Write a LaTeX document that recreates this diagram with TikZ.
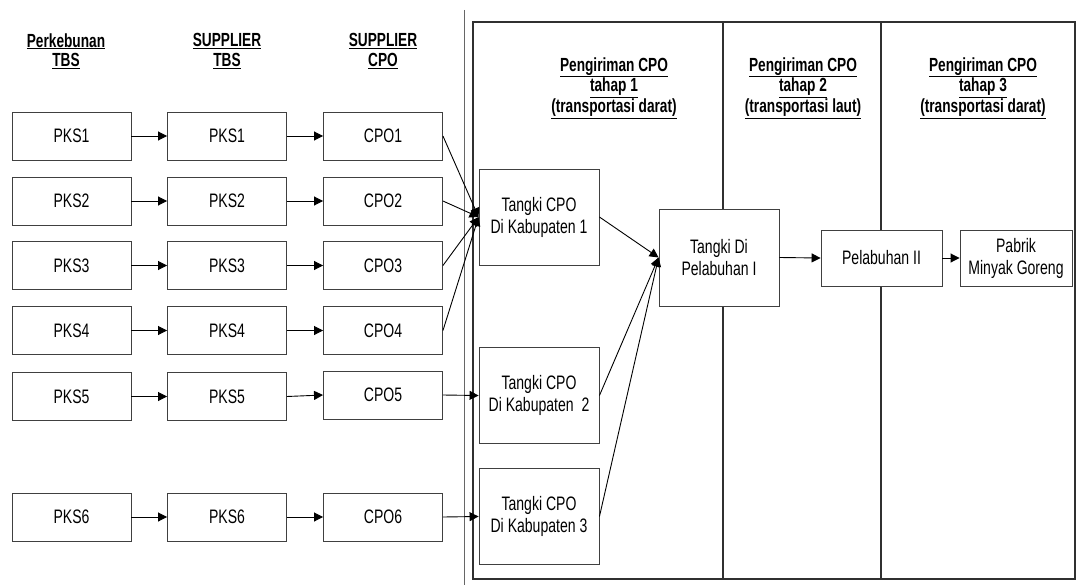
\documentclass[tikz,border=0pt]{standalone}
\usepackage{fontspec}
\setmainfont{Liberation Sans}[FakeStretch=0.72]
\usepackage{tikz}
\usetikzlibrary{arrows.meta,positioning}
\definecolor{frameline}{HTML}{303030}
\definecolor{boxline}{HTML}{404040}
\tikzset{
  pbox/.style={draw=boxline,fill=white,line width=0.9pt,align=center,inner sep=0pt,
    minimum width=119pt,minimum height=48pt,font=\fontsize{19.5}{22}\selectfont},
  tbox/.style={pbox,minimum width=120pt,minimum height=96pt},
  phead/.style={align=center,inner sep=0pt,font=\fontsize{19}{19.5}\selectfont\bfseries},
  parr/.style={-{Triangle[length=9pt,width=9pt]},line width=0.9pt,draw=black},
  pline/.style={line width=1.1pt,draw=frameline}
}
\begin{document}
\begin{tikzpicture}[x=1pt,y=-1pt]
  \useasboundingbox (0,0) rectangle (1076,586);
  % frame of the shipping stages
  \draw[pline] (473,22) rectangle (1075,579);
  \draw[pline] (723,22) -- (723,579);
  \draw[pline] (881,22) -- (881,579);
  \draw[line width=0.9pt,draw=gray!80!black] (464,10) -- (464,585);
  % column headers
  \node[phead] (h1) at (66,51) {\underline{Perkebunan}\\\underline{TBS}};
  \node[phead] (h2) at (227,51) {\underline{SUPPLIER}\\\underline{TBS}};
  \node[phead] (h3) at (383,51) {\underline{SUPPLIER}\\\underline{CPO}};
  \node[phead] (s1) at (614,88) {\underline{Pengiriman CPO}\\\underline{tahap 1}\\\underline{(transportasi darat)}};
  \node[phead] (s2) at (803,88) {\underline{Pengiriman CPO}\\\underline{tahap 2}\\\underline{(transportasi laut)}};
  \node[phead] (s3) at (983,88) {\underline{Pengiriman CPO}\\\underline{tahap 3}\\\underline{(transportasi darat)}};
  % plantations
  \node[pbox] (p1) at (71.5,136) {PKS1};
  \node[pbox] (p2) at (71.5,201) {PKS2};
  \node[pbox] (p3) at (71.5,265.5) {PKS3};
  \node[pbox] (p4) at (71.5,330.5) {PKS4};
  \node[pbox] (p5) at (71.5,396.5) {PKS5};
  \node[pbox] (p6) at (71.5,517) {PKS6};
  % TBS suppliers
  \node[pbox] (t1) at (227,136) {PKS1};
  \node[pbox] (t2) at (227,201) {PKS2};
  \node[pbox] (t3) at (227,265.5) {PKS3};
  \node[pbox] (t4) at (227,330.5) {PKS4};
  \node[pbox] (t5) at (227,396.5) {PKS5};
  \node[pbox] (t6) at (227,517) {PKS6};
  % CPO suppliers
  \node[pbox] (c1) at (383,136) {CPO1};
  \node[pbox] (c2) at (383,201) {CPO2};
  \node[pbox] (c3) at (383,265.5) {CPO3};
  \node[pbox] (c4) at (383,330.5) {CPO4};
  \node[pbox] (c5) at (383,395) {CPO5};
  \node[pbox] (c6) at (383,517) {CPO6};
  % tanks and ports
  \node[tbox] (k1) at (539,217) {Tangki CPO\\Di Kabupaten 1};
  \node[tbox] (k2) at (539,395.5) {Tangki CPO\\Di Kabupaten\ \ 2};
  \node[tbox] (k3) at (539,516.5) {Tangki CPO\\Di Kabupaten 3};
  \node[tbox,minimum height=97pt] (l1) at (719,257.5) {Tangki Di\\Pelabuhan I};
  \node[pbox,minimum width=121pt,minimum height=56pt] (l2) at (881.5,258) {Pelabuhan II};
  \node[pbox,minimum width=112pt,minimum height=56pt] (pm) at (1016,258) {Pabrik\\Minyak Goreng};
  % rows
  \draw[parr] (p1) -- (t1);
  \draw[parr] (t1) -- (c1);
  \draw[parr] (p2) -- (t2);
  \draw[parr] (t2) -- (c2);
  \draw[parr] (p3) -- (t3);
  \draw[parr] (t3) -- (c3);
  \draw[parr] (p4) -- (t4);
  \draw[parr] (t4) -- (c4);
  \draw[parr] (p5) -- (t5);
  \draw[parr] (t5.east) -- (c5.west);
  \draw[parr] (p6) -- (t6);
  \draw[parr] (t6) -- (c6);
  % to the tanks
  \draw[parr] (c1.east) -- (k1.west);
  \draw[parr] (c2.east) -- (k1.west);
  \draw[parr] (c3.east) -- (k1.west);
  \draw[parr] (c4.east) -- (k1.west);
  \draw[parr] (c5.east) -- (k2.west);
  \draw[parr] (c6.east) -- (k3.west);
  \draw[parr] (k1.east) -- (l1.west);
  \draw[parr] (k2.east) -- (l1.west);
  \draw[parr] (k3.east) -- (l1.west);
  \draw[parr] (l1.east) -- (l2.west);
  \draw[parr] (l2) -- (pm);
\end{tikzpicture}
\end{document}
